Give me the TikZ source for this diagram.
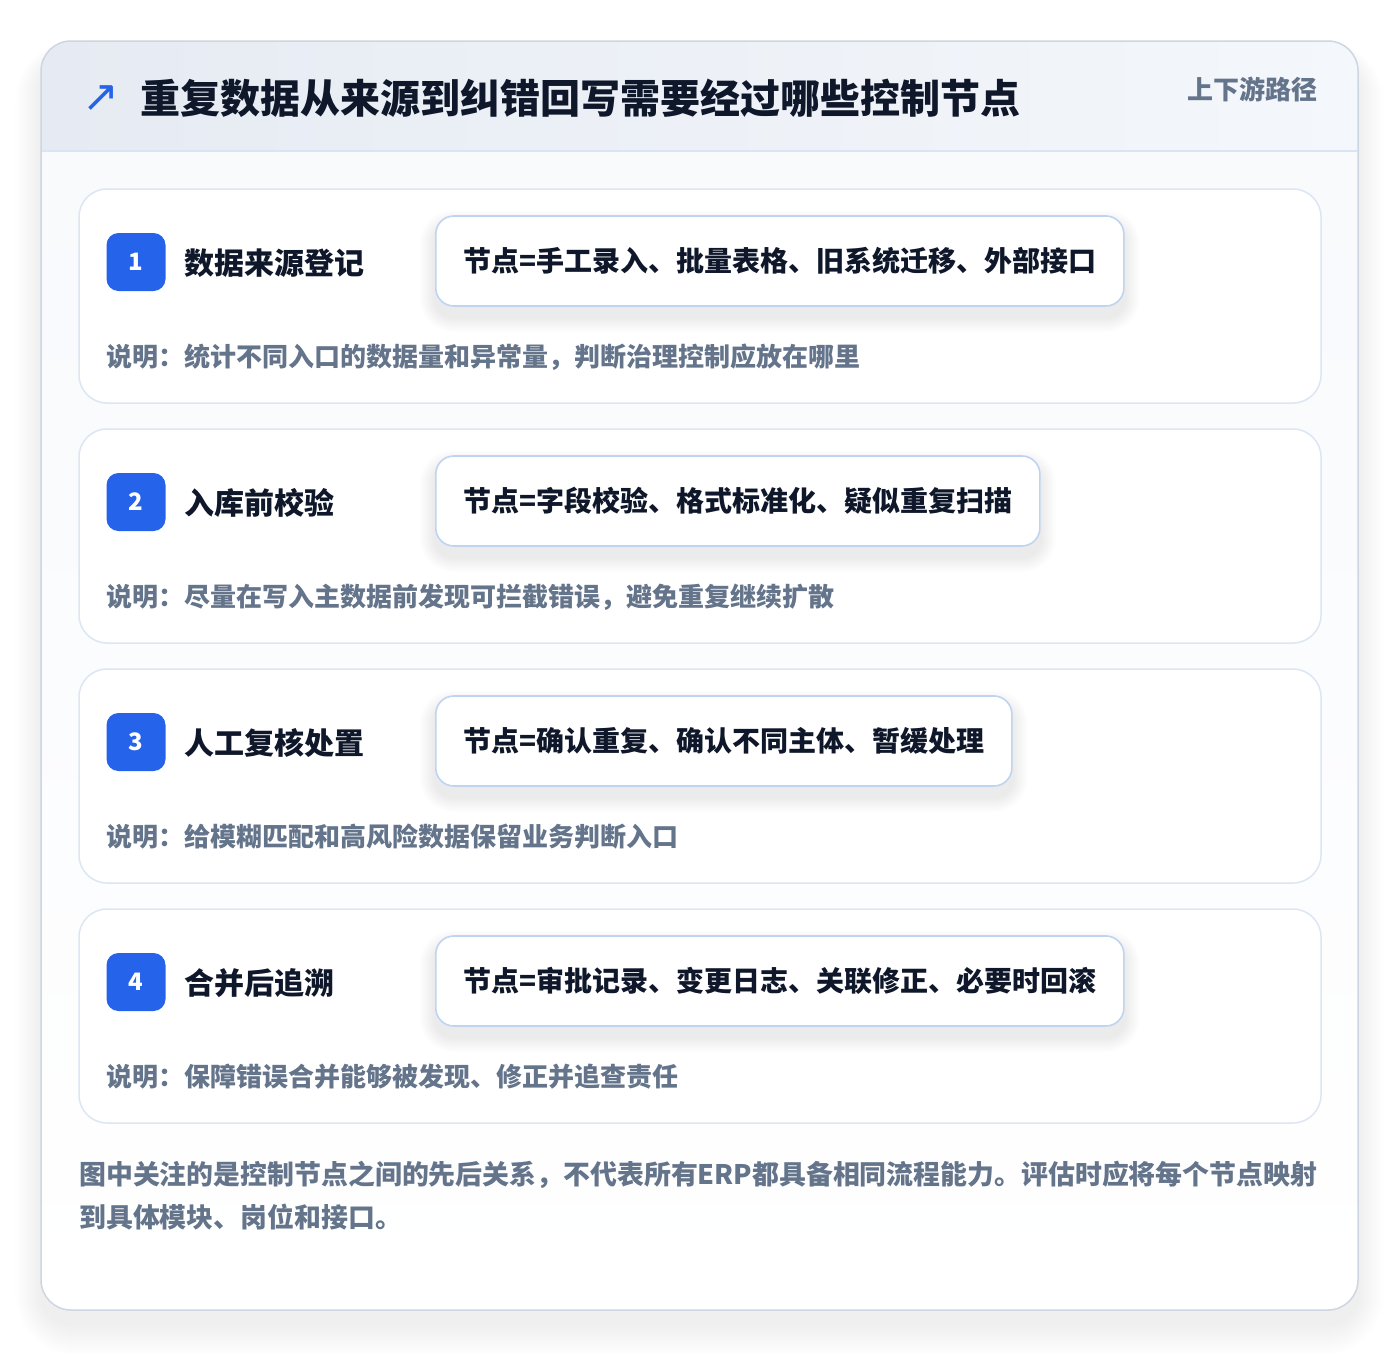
\documentclass[tikz,border=0pt]{standalone}
\usepackage{fontspec}
\setmainfont{Noto Sans CJK SC}
\newfontfamily\symfont{DejaVu Sans}
\definecolor{titlec}{HTML}{0F172A}
\definecolor{grayc}{HTML}{64748B}
\definecolor{bluec}{HTML}{2563EB}
\definecolor{outerline}{HTML}{CDD6E2}
\definecolor{hdrL}{HTML}{E6EBF3}
\definecolor{hdrR}{HTML}{F4F7FB}
\definecolor{hdrline}{HTML}{D9E5F4}
\definecolor{bodyT}{HTML}{F7F9FC}
\definecolor{cardline}{HTML}{DCE6F4}
\definecolor{boxline}{HTML}{BFD4F0}
\definecolor{shadowc}{HTML}{1E293B}
\tikzset{
  x=1pt, y=-1pt,
  cardbox/.style={draw=cardline, line width=1.5pt, fill=white, rounded corners=28pt},
  badgebox/.style={fill=bluec, rounded corners=12pt, minimum width=59pt, minimum height=58pt, inner sep=0pt, text=white, font=\bfseries\fontsize{24}{26}\selectfont},
  steptitle/.style={anchor=west, inner sep=0pt, text=titlec, font=\bfseries\fontsize{30}{36}\selectfont},
  nodebox/.style={anchor=west, draw=boxline, line width=1.6pt, fill=white, rounded corners=18pt, minimum height=90pt, inner xsep=27.5pt, text=titlec, font=\bfseries\fontsize{28}{34}\selectfont},
  desctext/.style={anchor=west, inner sep=0pt, text=grayc, font=\bfseries\fontsize{26}{32}\selectfont},
  foottext/.style={anchor=west, inner sep=0pt, text=grayc, font=\bfseries\fontsize{26.9}{33}\selectfont},
}
\begin{document}
\begin{tikzpicture}
\useasboundingbox (0,0) rectangle (1400,1352);
\fill[white] (0,0) rectangle (1400,1352);
% outer card soft shadow
\foreach \k in {1,...,16}{
  \fill[shadowc, opacity=0.0055, rounded corners=30pt+2*\k pt] (41-1.6*\k,41-1.2*\k+18) rectangle (1358+1.6*\k,1310+2*\k+14);
}
% body
\shade[top color=bodyT, bottom color=white, rounded corners=30pt] (41,41) rectangle (1358,1310);
\begin{scope}
  \clip[rounded corners=30pt] (41,41) rectangle (1358,1310);
  \shade[left color=hdrL, right color=hdrR] (41,41) rectangle (1358,151);
\end{scope}
\draw[hdrline, line width=1.5pt] (42,151) -- (1357,151);
\draw[outerline, line width=1.5pt, rounded corners=30pt] (41,41) rectangle (1358,1310);
% header
\node[anchor=center, inner sep=0pt, text=bluec, font=\symfont\fontsize{44}{48}\selectfont] (icon) at (101,99) {↗};
\node[anchor=west, inner sep=0pt, text=titlec, font=\bfseries\fontsize{40}{48}\selectfont] (title) at (140,98) {重复数据从来源到纠错回写需要经过哪些控制节点};
\node[anchor=east, inner sep=0pt, text=grayc, font=\bfseries\fontsize{26}{32}\selectfont] (tag) at (1318,89) {上下游路径};
% steps
\foreach \i/\t/\n/\d in {
  1/数据来源登记/节点=手工录入、批量表格、旧系统迁移、外部接口/说明：统计不同入口的数据量和异常量，判断治理控制应放在哪里,
  2/入库前校验/节点=字段校验、格式标准化、疑似重复扫描/说明：尽量在写入主数据前发现可拦截错误，避免重复继续扩散,
  3/人工复核处置/节点=确认重复、确认不同主体、暂缓处理/说明：给模糊匹配和高风险数据保留业务判断入口,
  4/合并后追溯/节点=审批记录、变更日志、关联修正、必要时回滚/说明：保障错误合并能够被发现、修正并追查责任}{
  \pgfmathsetmacro{\top}{189+(\i-1)*240}
  \draw[cardbox] (79,\top) rectangle (1321,\top+214);
  \node[badgebox] (badge\i) at (136,\top+73) {\i};
  \node[steptitle] (step\i) at (184,\top+74) {\t};
  \node[nodebox, opacity=0, text opacity=0] (ghost\i) at (435,\top+72) {\n};
  \foreach \k in {1,...,10}{
    \fill[shadowc, opacity=0.006, rounded corners=18pt+1.5*\k pt]
      ([xshift=-1.5*\k pt, yshift=1.5*\k pt-10pt]ghost\i.north west) rectangle ([xshift=1.5*\k pt, yshift=-1.5*\k pt-10pt]ghost\i.south east);
  }
  \node[nodebox] (node\i) at (435,\top+72) {\n};
  \node[desctext] (desc\i) at (106,\top+168) {\d};
}
% footer
\node[foottext] (foot1) at (79,1175) {图中关注的是控制节点之间的先后关系，不代表所有ERP都具备相同流程能力。评估时应将每个节点映射};
\node[foottext] (foot2) at (79,1217) {到具体模块、岗位和接口。};
\end{tikzpicture}
\end{document}
